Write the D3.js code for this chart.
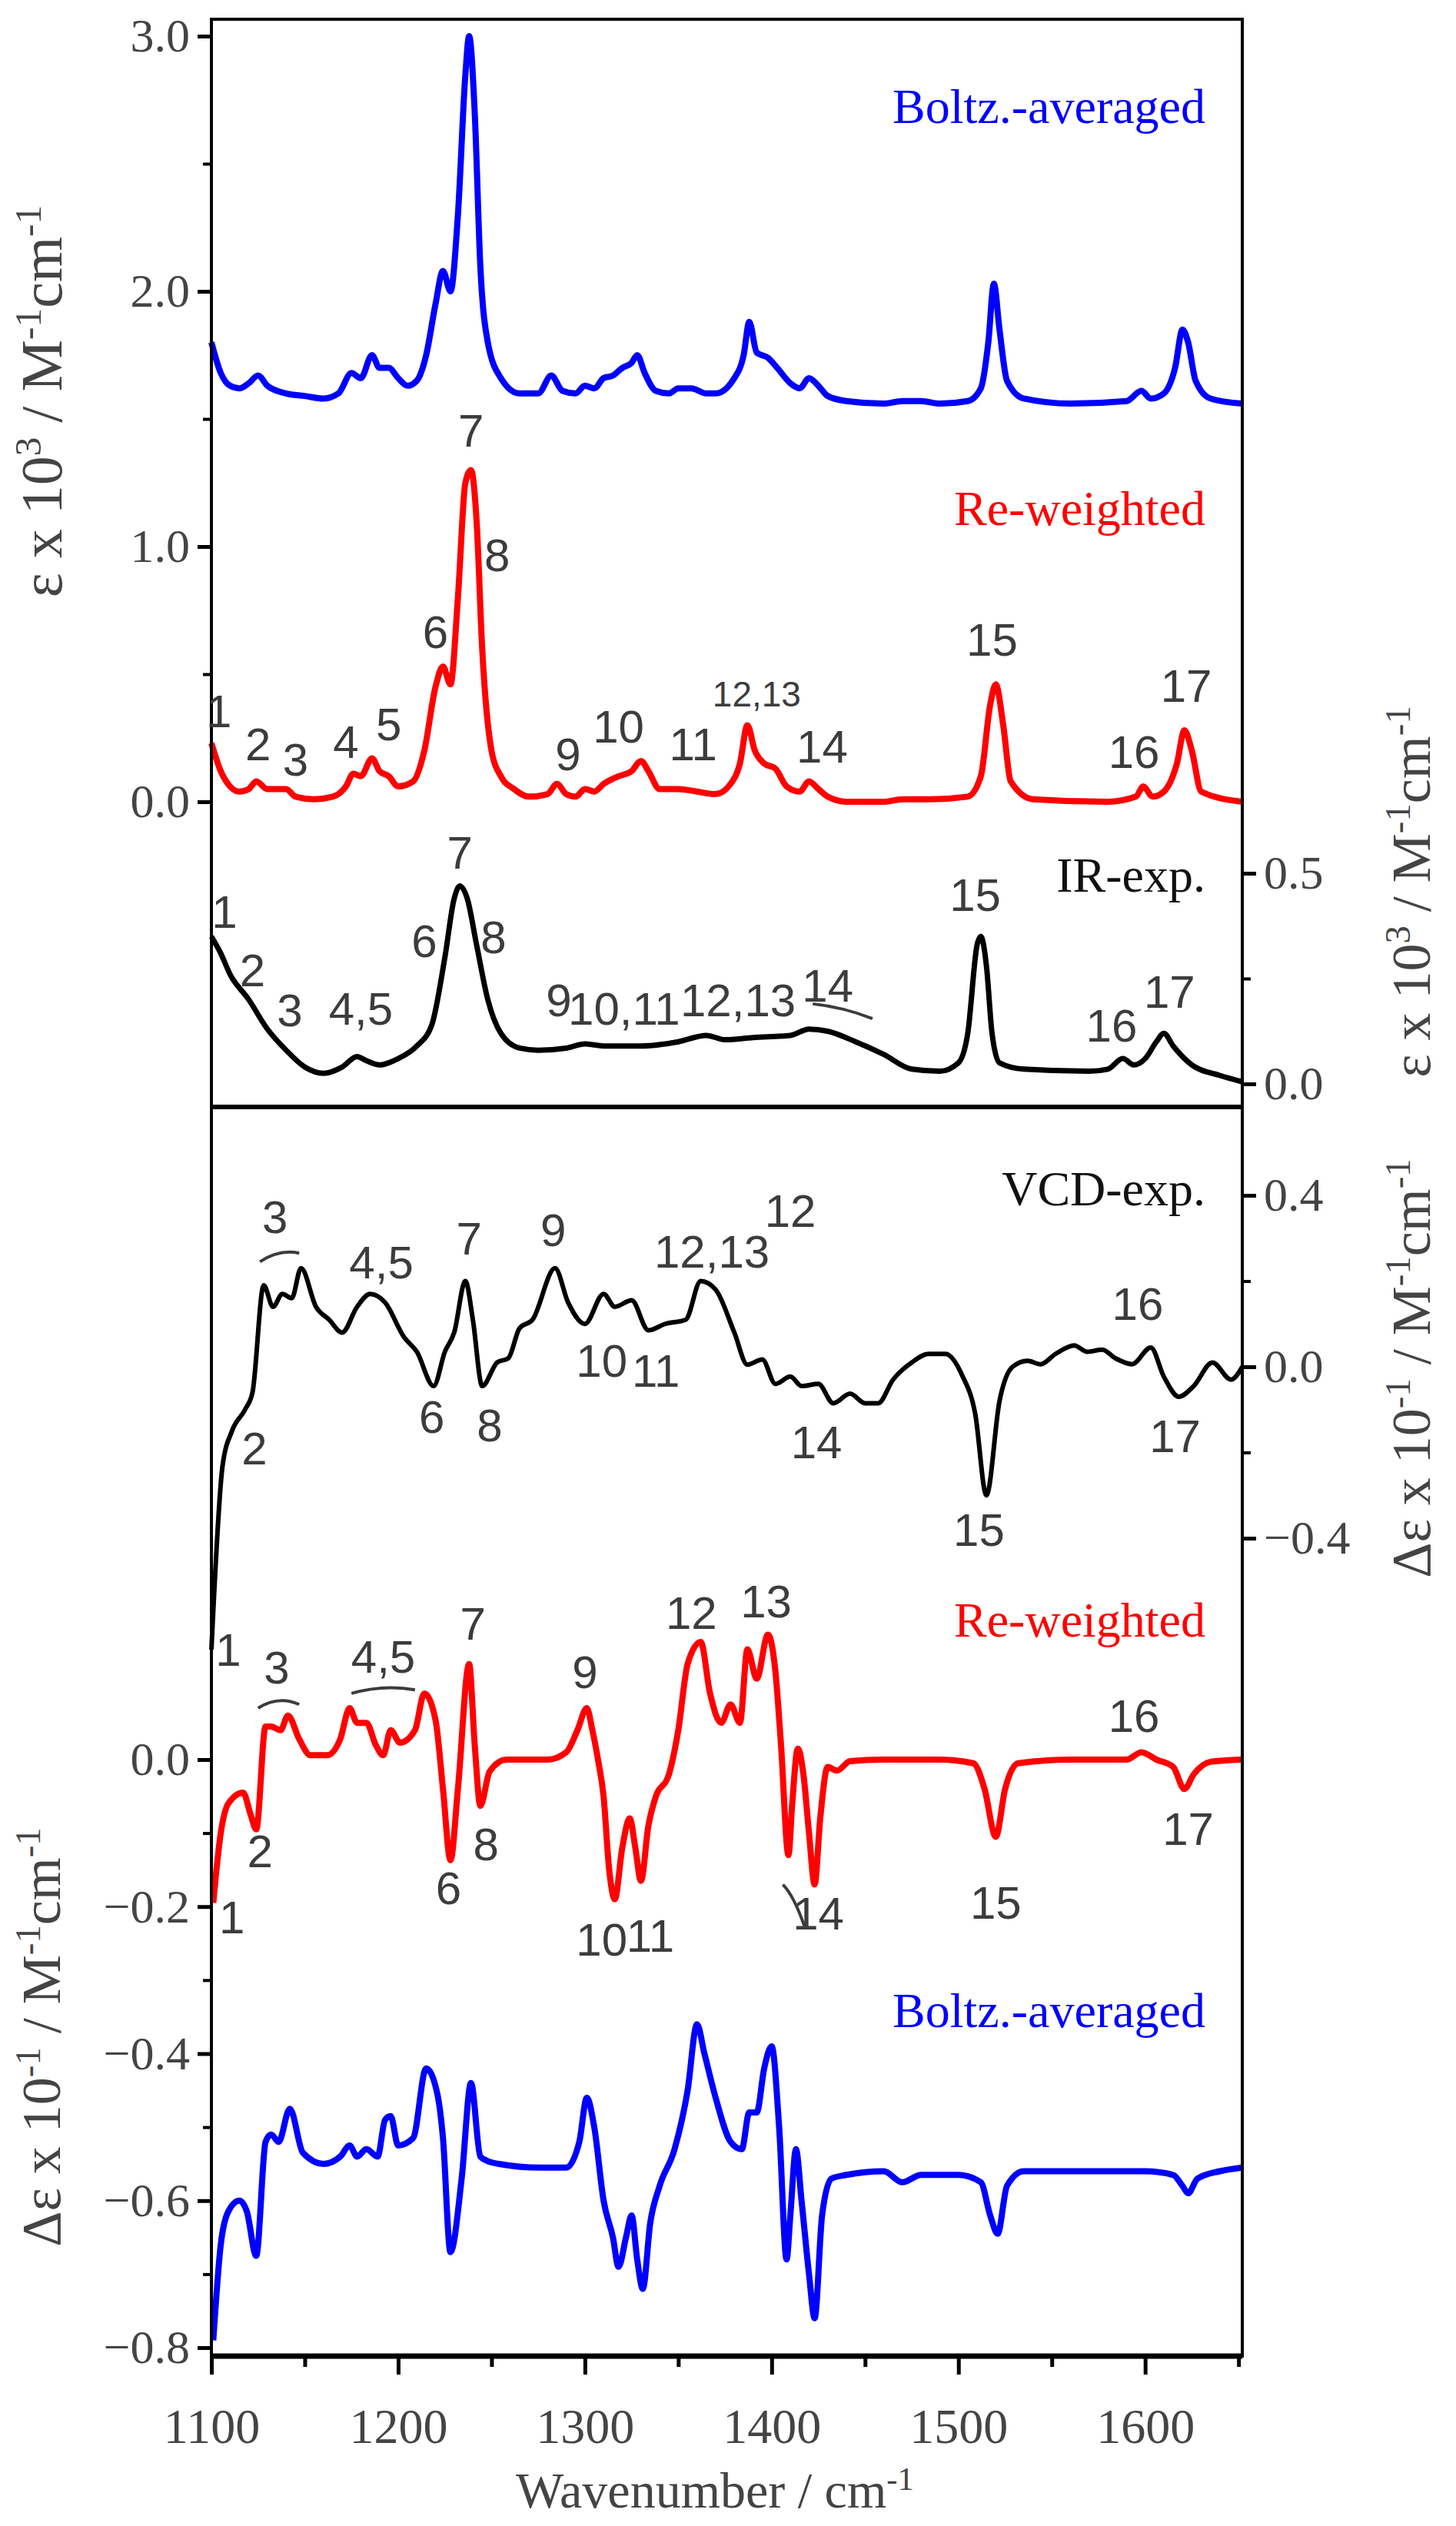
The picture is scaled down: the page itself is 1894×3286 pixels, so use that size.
<!DOCTYPE html>
<html><head><meta charset="utf-8">
<script src="https://cdn.jsdelivr.net/npm/d3@7"></script>
<style>body{margin:0;background:#fff}</style>
</head><body><div id="chart"></div>
<script>
// top panel, calculated IR (left axis, eps x 10^3)
const irBoltz = [[1100,1.80],[1105,1.68],[1110,1.63],[1115,1.62],[1120,1.64],[1125,1.67],[1130,1.63],[1140,1.60],[1150,1.59],[1160,1.58],[1168,1.60],[1175,1.68],[1180,1.66],[1186,1.75],[1190,1.70],[1195,1.70],[1200,1.66],[1205,1.63],[1210,1.65],[1215,1.75],[1220,1.95],[1224,2.08],[1228,2.00],[1232,2.3],[1236,2.85],[1238,3.0],[1241,2.7],[1244,2.1],[1248,1.8],[1255,1.66],[1265,1.60],[1275,1.60],[1282,1.67],[1288,1.61],[1295,1.60],[1300,1.63],[1305,1.62],[1310,1.66],[1315,1.67],[1320,1.70],[1325,1.72],[1328,1.75],[1332,1.68],[1338,1.61],[1345,1.60],[1350,1.62],[1357,1.62],[1365,1.60],[1370,1.60],[1380,1.66],[1385,1.75],[1388,1.88],[1392,1.76],[1398,1.74],[1403,1.70],[1410,1.64],[1415,1.62],[1420,1.66],[1425,1.63],[1430,1.59],[1440,1.57],[1460,1.56],[1470,1.57],[1480,1.57],[1490,1.56],[1505,1.57],[1512,1.62],[1516,1.8],[1519,2.03],[1522,1.85],[1526,1.65],[1535,1.58],[1560,1.56],[1590,1.57],[1598,1.61],[1603,1.58],[1610,1.60],[1616,1.70],[1620,1.85],[1623,1.80],[1627,1.65],[1635,1.58],[1652,1.56]]
const irReweighted = [[1100,0.23],[1105,0.12],[1110,0.06],[1115,0.04],[1120,0.05],[1124,0.08],[1130,0.05],[1135,0.05],[1140,0.05],[1145,0.02],[1155,0.01],[1165,0.02],[1172,0.06],[1176,0.11],[1180,0.10],[1186,0.17],[1190,0.12],[1195,0.10],[1200,0.06],[1208,0.08],[1214,0.2],[1220,0.45],[1224,0.53],[1228,0.46],[1232,0.8],[1236,1.25],[1239,1.30],[1242,1.1],[1245,0.6],[1250,0.2],[1255,0.1],[1262,0.05],[1270,0.02],[1280,0.03],[1285,0.07],[1290,0.03],[1295,0.02],[1300,0.05],[1305,0.04],[1310,0.07],[1318,0.1],[1325,0.12],[1330,0.16],[1334,0.12],[1340,0.05],[1350,0.05],[1360,0.04],[1370,0.03],[1378,0.07],[1383,0.15],[1387,0.30],[1391,0.2],[1396,0.15],[1402,0.13],[1408,0.06],[1415,0.04],[1420,0.08],[1425,0.05],[1430,0.02],[1440,0.0],[1460,0.0],[1470,0.01],[1485,0.01],[1505,0.02],[1512,0.1],[1517,0.38],[1520,0.46],[1524,0.3],[1528,0.08],[1540,0.01],[1580,0.0],[1595,0.02],[1599,0.06],[1604,0.02],[1610,0.04],[1617,0.15],[1621,0.28],[1625,0.2],[1630,0.04],[1652,0.0]]
// top panel, experimental IR (right axis)
const irExp = [[1100,0.35],[1105,0.31],[1110,0.26],[1120,0.20],[1130,0.13],[1140,0.08],[1150,0.04],[1160,0.025],[1170,0.04],[1178,0.065],[1183,0.055],[1190,0.045],[1200,0.06],[1210,0.09],[1218,0.14],[1225,0.30],[1230,0.44],[1233,0.47],[1237,0.44],[1242,0.33],[1248,0.2],[1255,0.12],[1265,0.085],[1275,0.08],[1290,0.085],[1300,0.095],[1310,0.09],[1330,0.09],[1350,0.1],[1365,0.115],[1375,0.105],[1390,0.11],[1410,0.115],[1420,0.13],[1430,0.125],[1445,0.1],[1460,0.07],[1475,0.035],[1490,0.03],[1500,0.05],[1505,0.12],[1510,0.33],[1512,0.35],[1515,0.28],[1518,0.12],[1522,0.05],[1535,0.035],[1570,0.03],[1580,0.035],[1588,0.06],[1594,0.045],[1600,0.06],[1606,0.10],[1610,0.12],[1615,0.09],[1625,0.045],[1640,0.02],[1652,0.005]]
// bottom panel, experimental VCD (right axis)
const vcdExp = [[1100,-0.66],[1106,-0.23],[1111,-0.15],[1118,-0.10],[1122,-0.06],[1128,0.19],[1133,0.14],[1138,0.17],[1143,0.16],[1148,0.23],[1156,0.14],[1163,0.11],[1170,0.08],[1178,0.14],[1185,0.17],[1193,0.15],[1203,0.07],[1210,0.035],[1219,-0.045],[1225,0.035],[1230,0.08],[1236,0.2],[1240,0.11],[1245,-0.045],[1253,0.01],[1259,0.02],[1265,0.09],[1272,0.11],[1284,0.23],[1291,0.15],[1300,0.10],[1310,0.17],[1316,0.14],[1325,0.155],[1334,0.085],[1343,0.10],[1354,0.11],[1362,0.2],[1370,0.18],[1380,0.08],[1387,0.005],[1395,0.017],[1402,-0.04],[1410,-0.023],[1416,-0.045],[1425,-0.04],[1433,-0.085],[1442,-0.063],[1450,-0.085],[1457,-0.085],[1465,-0.03],[1475,0.01],[1484,0.03],[1493,0.03],[1502,-0.02],[1509,-0.11],[1515,-0.30],[1522,-0.08],[1529,0.0],[1537,0.014],[1544,0.006],[1552,0.03],[1562,0.05],[1569,0.035],[1577,0.04],[1584,0.02],[1593,0.006],[1603,0.045],[1610,-0.023],[1618,-0.07],[1626,-0.045],[1636,0.01],[1646,-0.03],[1652,0.0]]
// bottom panel, calculated VCD (left axis)
const vcdReweighted = [[1101,-0.195],[1105,-0.10],[1109,-0.06],[1117,-0.045],[1121,-0.075],[1124,-0.095],[1129,0.045],[1132,0.045],[1137,0.04],[1141,0.06],[1147,0.028],[1153,0.006],[1162,0.006],[1169,0.028],[1174,0.07],[1178,0.05],[1183,0.05],[1188,0.02],[1192,0.006],[1196,0.04],[1201,0.023],[1209,0.04],[1214,0.09],[1220,0.054],[1224,-0.04],[1228,-0.137],[1232,-0.04],[1238,0.13],[1241,0.02],[1244,-0.063],[1249,-0.016],[1258,0],[1280,0],[1290,0.01],[1296,0.04],[1301,0.07],[1304,0.04],[1307,0.0],[1310,-0.05],[1313,-0.15],[1316,-0.19],[1320,-0.12],[1324,-0.08],[1327,-0.12],[1330,-0.165],[1334,-0.09],[1338,-0.05],[1345,-0.02],[1350,0.04],[1355,0.13],[1362,0.16],[1367,0.09],[1373,0.05],[1378,0.075],[1383,0.05],[1387,0.15],[1392,0.11],[1398,0.17],[1402,0.12],[1405,0.02],[1409,-0.13],[1411,-0.06],[1414,0.015],[1417,-0.02],[1420,-0.1],[1423,-0.17],[1426,-0.08],[1430,-0.01],[1435,-0.015],[1442,-0.002],[1460,0.0],[1490,0.0],[1508,-0.005],[1514,-0.04],[1520,-0.105],[1525,-0.04],[1532,-0.005],[1560,0.0],[1590,0.0],[1598,0.01],[1606,0.0],[1615,-0.01],[1621,-0.04],[1626,-0.02],[1635,-0.003],[1652,0.0]]
const vcdBoltz = [[1101,-0.79],[1105,-0.66],[1109,-0.615],[1115,-0.6],[1119,-0.615],[1124,-0.675],[1129,-0.52],[1132,-0.51],[1136,-0.52],[1142,-0.475],[1149,-0.535],[1160,-0.55],[1169,-0.54],[1174,-0.525],[1178,-0.54],[1183,-0.53],[1189,-0.54],[1193,-0.49],[1196,-0.485],[1200,-0.525],[1208,-0.515],[1215,-0.42],[1221,-0.455],[1224,-0.515],[1228,-0.67],[1234,-0.57],[1239,-0.44],[1244,-0.54],[1247,-0.545],[1254,-0.55],[1276,-0.555],[1290,-0.555],[1297,-0.52],[1301,-0.46],[1305,-0.5],[1310,-0.6],[1315,-0.65],[1318,-0.69],[1322,-0.65],[1325,-0.62],[1328,-0.68],[1331,-0.72],[1335,-0.63],[1340,-0.58],[1348,-0.53],[1355,-0.45],[1360,-0.36],[1364,-0.4],[1370,-0.46],[1378,-0.52],[1384,-0.53],[1388,-0.48],[1392,-0.48],[1396,-0.42],[1400,-0.39],[1404,-0.5],[1408,-0.68],[1410,-0.62],[1413,-0.53],[1416,-0.6],[1420,-0.7],[1423,-0.76],[1427,-0.62],[1432,-0.57],[1440,-0.565],[1460,-0.56],[1470,-0.575],[1480,-0.565],[1500,-0.565],[1512,-0.575],[1517,-0.62],[1521,-0.645],[1526,-0.58],[1535,-0.56],[1600,-0.56],[1615,-0.565],[1620,-0.58],[1623,-0.59],[1628,-0.57],[1640,-0.56],[1652,-0.555]]

// band labels [text, wavenumber, value]
const lblIrRe = [["1",1104,0.34],["2",1125,0.21],["3",1145,0.15],["4",1172,0.22],["5",1195,0.29],["6",1220,0.65],["7",1239,1.44],["8",1253,0.95],["9",1291,0.17],["10",1318,0.28],["11",1358,0.21],["12,13",1392,0.41],["14",1427,0.2],["15",1518,0.62],["16",1594,0.18],["17",1622,0.44]]
const lblIrExp = [["1",1107,0.40],["2",1122,0.26],["3",1142,0.165],["4,5",1180,0.17],["6",1214,0.33],["7",1233,0.54],["8",1251,0.34],["9",1286,0.19],["10,11",1321,0.17],["12,13",1382,0.19],["14",1430,0.225],["15",1509,0.44],["16",1582,0.13],["17",1613,0.21]]
const lblVcdExp = [["1",1109,-0.67],["2",1123,-0.2],["3",1134,0.34],["4,5",1191,0.235],["6",1218,-0.126],["7",1238,0.29],["8",1249,-0.145],["9",1283,0.31],["10",1309,0.005],["11",1338,-0.018],["12,13",1368,0.26],["12",1410,0.355],["14",1424,-0.185],["15",1511,-0.39],["16",1596,0.137],["17",1616,-0.17]]
const lblVcdRe = [["1",1111,-0.22],["2",1126,-0.13],["3",1135,0.12],["4,5",1192,0.135],["6",1227,-0.18],["7",1240,0.18],["8",1247,-0.12],["9",1300,0.114],["10",1309,-0.25],["11",1335,-0.245],["12",1357,0.194],["13",1397,0.21],["14",1425,-0.215],["15",1520,-0.2],["16",1594,0.054],["17",1623,-0.1]]
// bracket arcs [wn1, v1, wn2, v2, bend in value units]
const arcIrExp = [[1422,0.19,1454,0.155,0.01]]
const arcVcdExp = [[1126,0.245,1147,0.265,0.02]]
const arcVcdRe = [[1125,0.07,1147,0.075,0.015],[1175,0.09,1209,0.095,0.01],[1406,-0.17,1418,-0.23,0.015]]

const xTicks = [1100, 1200, 1300, 1400, 1500, 1600]

const W = 1894, H = 3286
const L = 275, R = 1616, T = 25, MID = 1440, B = 3065
const svg = d3.select("#chart").append("svg").attr("width", W).attr("height", H)

const x = d3.scaleLinear().domain([1100, 1652]).range([L, R])
const yTL = d3.scaleLinear().domain([0, 1]).range([1043, 711])
const yTR = d3.scaleLinear().domain([0, 0.5]).range([1410, 1136])
const yBR = d3.scaleLinear().domain([0, 0.4]).range([1778, 1555])
const yBL = d3.scaleLinear().domain([0, -0.8]).range([2289, 3054])

const serif = "Liberation Serif, DejaVu Serif, serif"
const sans = "Liberation Sans, Arial, sans-serif"

function drawLine(data, ys, color, w) {
  svg.append("path").datum(data)
    .attr("fill", "none").attr("stroke", color).attr("stroke-width", w)
    .attr("stroke-linejoin", "round")
    .attr("d", d3.line().x(d => x(d[0])).y(d => ys(d[1])).curve(d3.curveMonotoneX))
}
function drawLabels(list, ys, size) {
  svg.append("g").selectAll("text").data(list).enter().append("text")
    .attr("x", d => x(d[1])).attr("y", d => ys(d[2]))
    .attr("text-anchor", "middle").attr("dominant-baseline", "middle")
    .attr("font-family", sans).attr("font-size", d => d[0] == "12,13" && ys == yTL ? 46 : size)
    .attr("fill", "#3c3c3c").text(d => d[0])
}
function drawArcs(list, ys) {
  list.forEach(a => {
    const x1 = x(a[0]), y1 = ys(a[1]), x2 = x(a[2]), y2 = ys(a[3])
    const cx = (x1 + x2) / 2, cy = ys((a[1] + a[3]) / 2 + a[4])
    svg.append("path").attr("d", `M${x1},${y1}Q${cx},${cy} ${x2},${y2}`)
      .attr("fill", "none").attr("stroke", "#3c3c3c").attr("stroke-width", 4)
  })
}
function yAxis(scale, side, ticks, minor, fmt) {
  const ax = (side == "left" ? d3.axisLeft(scale) : d3.axisRight(scale))
    .tickValues(ticks).tickFormat(fmt).tickSize(18).tickPadding(10)
  const g = svg.append("g").attr("transform", `translate(${side == "left" ? L : R},0)`).call(ax)
  g.select(".domain").remove()
  g.selectAll("line").attr("stroke-width", 5)
  g.selectAll("text").attr("font-family", serif).attr("font-size", 62).attr("fill", "#444")
  const m = (side == "left" ? d3.axisLeft(scale) : d3.axisRight(scale)).tickValues(minor).tickFormat("").tickSize(11)
  const gm = svg.append("g").attr("transform", `translate(${side == "left" ? L : R},0)`).call(m)
  gm.select(".domain").remove()
  gm.selectAll("line").attr("stroke-width", 4)
}

// curves
drawLine(irBoltz, yTL, "#0000ff", 8)
drawLine(irReweighted, yTL, "#ff0000", 8)
drawLine(irExp, yTR, "#000", 7)
drawLine(vcdExp, yBR, "#000", 6)
drawLine(vcdReweighted, yBL, "#ff0000", 8)
drawLine(vcdBoltz, yBL, "#0000ff", 8)

// frame
svg.append("rect").attr("x", L).attr("y", T).attr("width", R - L).attr("height", B - T)
  .attr("fill", "none").attr("stroke", "#000").attr("stroke-width", 4)
svg.append("line").attr("x1", L).attr("x2", R).attr("y1", MID).attr("y2", MID).attr("stroke", "#000").attr("stroke-width", 6)
svg.append("line").attr("x1", L).attr("x2", R).attr("y1", B).attr("y2", B).attr("stroke", "#000").attr("stroke-width", 7)

// axes
yAxis(yTL, "left", [0, 1, 2, 3], [0.5, 1.5, 2.5], d3.format(".1f"))
yAxis(yTR, "right", [0, 0.5], [0.25], d3.format(".1f"))
yAxis(yBR, "right", [-0.4, 0, 0.4], [-0.2, 0.2], d3.format(".1f"))
yAxis(yBL, "left", [0, -0.2, -0.4, -0.6, -0.8], [-0.1, -0.3, -0.5, -0.7], d3.format(".1f"))

const gx = svg.append("g").attr("transform", `translate(0,${B})`)
  .call(d3.axisBottom(x).tickValues(xTicks).tickFormat(d3.format("d")).tickSize(24).tickPadding(44))
gx.select(".domain").remove()
gx.selectAll("line").attr("stroke-width", 5)
gx.selectAll("text").attr("font-family", serif).attr("font-size", 64).attr("fill", "#444")
const gxm = svg.append("g").attr("transform", `translate(0,${B})`)
  .call(d3.axisBottom(x).tickValues([1150, 1250, 1350, 1450, 1550, 1650]).tickFormat("").tickSize(14))
gxm.select(".domain").remove()
gxm.selectAll("line").attr("stroke-width", 5)

// annotations
drawLabels(lblIrRe, yTL, 60)
drawLabels(lblIrExp, yTR, 60)
drawLabels(lblVcdExp, yBR, 60)
drawLabels(lblVcdRe, yBL, 60)
drawArcs(arcIrExp, yTR)
drawArcs(arcVcdExp, yBR)
drawArcs(arcVcdRe, yBL)

// curve names
const names = [["Boltz.-averaged", 160, "#0000ff"], ["Re-weighted", 683, "#ff0000"], ["IR-exp.", 1160, "#111"],
  ["VCD-exp.", 1568, "#111"], ["Re-weighted", 2129, "#ff0000"], ["Boltz.-averaged", 2637, "#0000ff"]]
svg.append("g").selectAll("text").data(names).enter().append("text")
  .attr("x", 1568).attr("y", d => d[1]).attr("text-anchor", "end")
  .attr("font-family", serif).attr("font-size", 64).attr("fill", d => d[2]).text(d => d[0])

// axis titles
function title(txt, cx, cy, rot, size) {
  const t = svg.append("text").attr("transform", `translate(${cx},${cy}) rotate(${rot})`)
    .attr("text-anchor", "middle").attr("font-family", serif).attr("font-size", size).attr("fill", "#444")
  txt.forEach(p => t.append("tspan").attr("baseline-shift", p[1] ? "super" : null)
    .attr("font-size", p[1] ? size * 0.65 : null).text(p[0]))
}
title([["ε x 10"], ["3", 1], [" / M"], ["-1", 1], ["cm"], ["-1", 1]], 80, 522, -90, 76)
title([["ε x 10"], ["3", 1], [" / M"], ["-1", 1], ["cm"], ["-1", 1]], 1860, 1160, -90, 72)
title([["Δε x 10"], ["-1", 1], [" / M"], ["-1", 1], ["cm"], ["-1", 1]], 1860, 1780, -90, 72)
title([["Δε x 10"], ["-1", 1], [" / M"], ["-1", 1], ["cm"], ["-1", 1]], 78, 2650, -90, 72)
title([["Wavenumber / cm"], ["-1", 1]], 930, 3262, 0, 66)
</script></body></html>
